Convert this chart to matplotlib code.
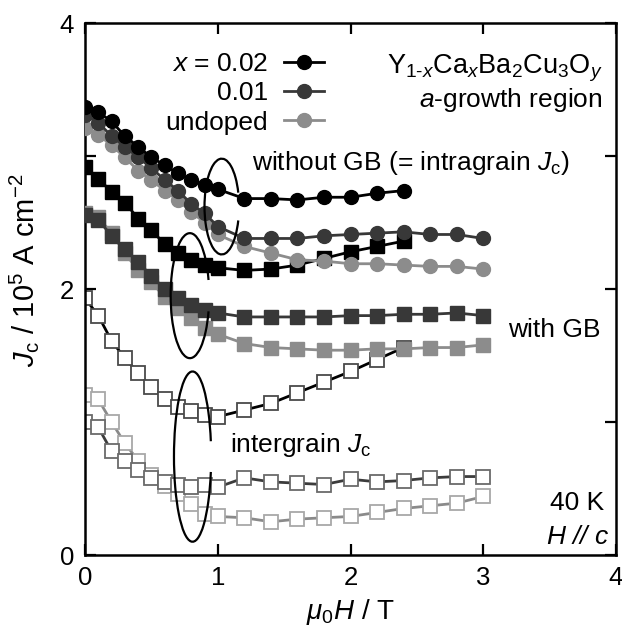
import matplotlib
matplotlib.use("Agg")
import matplotlib.pyplot as plt
from matplotlib.patches import Arc

plt.rcParams['font.family'] = ['Liberation Sans', 'DejaVu Sans']
plt.rcParams['mathtext.fontset'] = 'custom'
plt.rcParams['mathtext.rm'] = 'Liberation Sans'
plt.rcParams['mathtext.it'] = 'Liberation Sans:italic'
plt.rcParams['mathtext.bf'] = 'Liberation Sans:bold'

# field values (T)
x_low = [0.0, 0.1, 0.2, 0.3, 0.4, 0.5, 0.6, 0.7, 0.8, 0.9, 1.0]
x_to24 = x_low + [1.2, 1.4, 1.6, 1.8, 2.0, 2.2, 2.4]
x_to30 = x_to24 + [2.6, 2.8, 3.0]

# without GB (intragrain Jc), circles
jc_intra_002 = [3.37, 3.33, 3.26, 3.15, 3.07, 2.99, 2.93, 2.87, 2.82, 2.78, 2.75,
                2.68, 2.68, 2.67, 2.69, 2.69, 2.72, 2.74]
jc_intra_001 = [3.31, 3.25, 3.15, 3.07, 2.99, 2.91, 2.82, 2.74, 2.64, 2.57, 2.47,
                2.38, 2.38, 2.38, 2.40, 2.41, 2.42, 2.43, 2.41, 2.41, 2.38]
jc_intra_und = [3.21, 3.16, 3.08, 2.99, 2.89, 2.82, 2.74, 2.67, 2.58, 2.50, 2.41,
                2.32, 2.27, 2.22, 2.21, 2.19, 2.19, 2.18, 2.17, 2.17, 2.15]

# with GB, filled squares
jc_gb_002 = [2.92, 2.83, 2.73, 2.65, 2.53, 2.44, 2.34, 2.27, 2.22, 2.18, 2.16,
             2.14, 2.15, 2.18, 2.23, 2.28, 2.32, 2.36]
jc_gb_001 = [2.56, 2.52, 2.40, 2.30, 2.20, 2.10, 2.00, 1.93, 1.88, 1.84, 1.82,
             1.79, 1.79, 1.79, 1.79, 1.80, 1.80, 1.81, 1.81, 1.82, 1.80]
jc_gb_und = [2.57, 2.54, 2.42, 2.27, 2.14, 2.05, 1.94, 1.86, 1.78, 1.71, 1.66,
             1.59, 1.56, 1.55, 1.54, 1.54, 1.55, 1.55, 1.56, 1.56, 1.58]

# intergrain Jc, open squares
jc_inter_002 = [1.93, 1.80, 1.61, 1.48, 1.37, 1.26, 1.17, 1.11, 1.08, 1.05, 1.04,
                1.09, 1.14, 1.22, 1.30, 1.38, 1.47, 1.56]
jc_inter_001 = [1.00, 0.96, 0.78, 0.71, 0.64, 0.58, 0.55, 0.53, 0.51, 0.53, 0.51,
                0.58, 0.55, 0.54, 0.53, 0.57, 0.55, 0.56, 0.58, 0.59, 0.59]
jc_inter_und = [1.20, 1.17, 1.00, 0.84, 0.71, 0.60, 0.52, 0.46, 0.38, 0.31, 0.29,
                0.28, 0.25, 0.27, 0.28, 0.29, 0.32, 0.35, 0.37, 0.39, 0.44]

labels = ['$x$ = 0.02', '0.01', 'undoped']
c_002, c_001, c_und = 'black', '#383838', '#8c8c8c'

fig = plt.figure(figsize=(6.22, 6.27), dpi=100)
ax = fig.add_axes([0.1367, 0.1148, 0.8537, 0.8485])

FS = 19
ms_c, ms_s = 10, 9.5
lw = 2.0

# intergrain (open squares)
ax.plot(x_to30, jc_inter_und, '-s', color='#8a8a8a', lw=lw, ms=ms_s,
        mfc='white', mec='#a8a8a8', mew=1.3, zorder=2)
ax.plot(x_to30, jc_inter_001, '-s', color='#3c3c3c', lw=lw, ms=ms_s,
        mfc='white', mec='#6a6a6a', mew=1.3, zorder=2)
ax.plot(x_to24, jc_inter_002, '-s', color='black', lw=lw, ms=ms_s,
        mfc='white', mec='#4a4a4a', mew=1.3, zorder=2)

# with GB (filled squares)
ax.plot(x_to30, jc_gb_und, '-s', color=c_und, lw=lw, ms=ms_s, zorder=3)
ax.plot(x_to30, jc_gb_001, '-s', color=c_001, lw=lw, ms=ms_s, zorder=3)
ax.plot(x_to24, jc_gb_002, '-s', color=c_002, lw=lw, ms=ms_s, zorder=3)

# without GB (circles)
h_und, = ax.plot(x_to30, jc_intra_und, '-o', color=c_und, lw=lw, ms=ms_c, zorder=4)
h_001, = ax.plot(x_to30, jc_intra_001, '-o', color=c_001, lw=lw, ms=ms_c, zorder=4)
h_002, = ax.plot(x_to24, jc_intra_002, '-o', color=c_002, lw=lw, ms=ms_c, zorder=4)

# loops grouping the curves
for cx, cy, w, h in [(1.03, 2.62, 0.26, 0.72), (0.79, 1.95, 0.29, 0.94), (0.81, 0.74, 0.28, 1.28)]:
    ax.add_patch(Arc((cx, cy), w, h, theta1=40, theta2=320, color='black', lw=1.6, zorder=6))

leg = ax.legend([h_002, h_001, h_und], labels, markerfirst=False, frameon=False,
                loc='upper right', bbox_to_anchor=(0.474, 0.97), fontsize=FS,
                handlelength=1.5, handletextpad=0.6, labelspacing=0.2, borderpad=0)

ax.text(0.975, 0.915, 'Y$_{1\u2010x}$Ca$_x$Ba$_2$Cu$_3$O$_y$', transform=ax.transAxes,
        ha='right', va='center', fontsize=19.5)
ax.text(0.975, 0.855, '$a$-growth region', transform=ax.transAxes,
        ha='right', va='center', fontsize=FS)
ax.text(1.26, 2.95, 'without GB (= intragrain $J_\\mathrm{c}$)', ha='left', va='center', fontsize=FS)
ax.text(3.19, 1.69, 'with GB', ha='left', va='center', fontsize=FS)
ax.text(1.09, 0.83, 'intergrain $J_\\mathrm{c}$', ha='left', va='center', fontsize=FS)
ax.text(0.977, 0.098, '40 K', transform=ax.transAxes, ha='right', va='center', fontsize=FS)
ax.text(0.987, 0.034, '$H$ // $c$', transform=ax.transAxes, ha='right', va='center',
        fontsize=FS, style='italic')

ax.set_xlim(0, 4)
ax.set_ylim(0, 4)
ax.set_xticks([0, 1, 2, 3, 4])
ax.set_yticks([0, 1, 2, 3, 4])
ax.set_yticklabels(['0', '', '2', '', '4'])
ax.tick_params(direction='in', length=8, width=1.6, top=True, right=True,
               labelsize=18.5, pad=8)
for sp in ax.spines.values():
    sp.set_linewidth(1.8)

ax.set_xlabel('$\\mu_0H$ / T', fontsize=20, labelpad=5)
ax.set_ylabel('$J_\\mathrm{c}$ / 10$^5$ A cm$^{-2}$', fontsize=21, labelpad=4)
ax.yaxis.set_label_coords(-0.082, 0.535)

fig.savefig('out.png', dpi=100)
